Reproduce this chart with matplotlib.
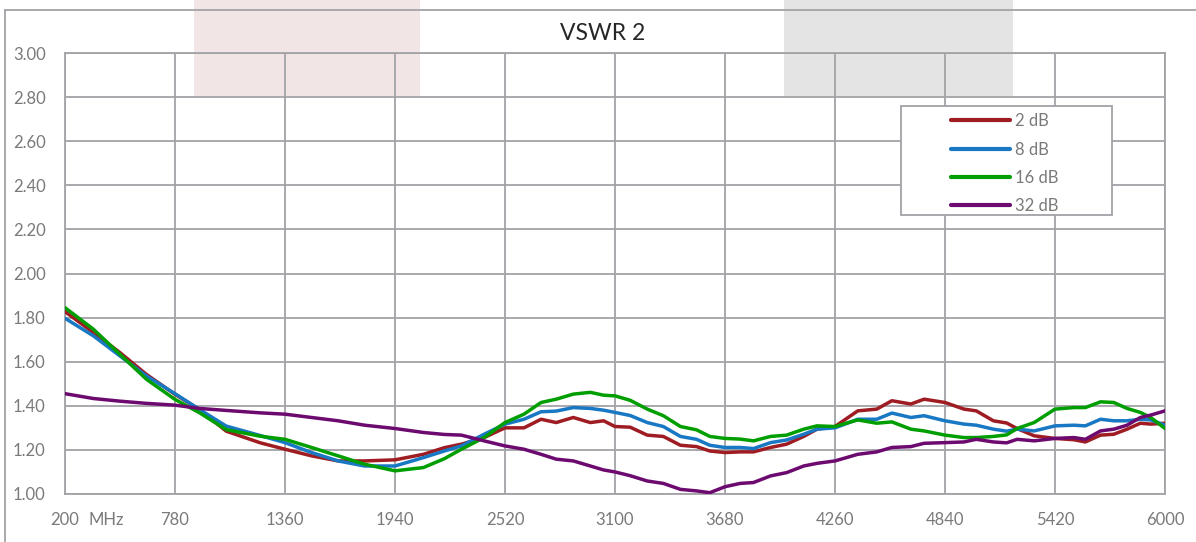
import matplotlib.pyplot as plt
from matplotlib.patches import Rectangle
from matplotlib.lines import Line2D

# frequency points (MHz)
freq = [200, 350, 490, 630, 780, 910, 1050, 1230, 1360, 1500, 1640, 1780, 1940,
        2090, 2200, 2290, 2410, 2520, 2620, 2710, 2790, 2880, 2970, 3040, 3100,
        3180, 3270, 3355, 3445, 3530, 3600, 3680, 3760, 3830, 3920, 4005, 4095,
        4165, 4260, 4380, 4480, 4560, 4660, 4730, 4840, 4940, 5005, 5095, 5165,
        5220, 5310, 5420, 5520, 5580, 5660, 5730, 5800, 5870, 5925, 6000]

vswr_2db = [1.827, 1.732, 1.641, 1.542, 1.452, 1.383, 1.285, 1.232, 1.203, 1.173,
            1.150, 1.150, 1.155, 1.180, 1.210, 1.226, 1.256, 1.300, 1.300, 1.339,
            1.324, 1.347, 1.324, 1.332, 1.306, 1.303, 1.267, 1.261, 1.221, 1.215,
            1.195, 1.188, 1.191, 1.191, 1.211, 1.226, 1.261, 1.294, 1.306, 1.377,
            1.385, 1.423, 1.408, 1.430, 1.415, 1.385, 1.377, 1.332, 1.322, 1.297,
            1.264, 1.252, 1.246, 1.236, 1.267, 1.271, 1.294, 1.321, 1.317, 1.321]

vswr_8db = [1.797, 1.717, 1.626, 1.535, 1.455, 1.383, 1.308, 1.265, 1.233, 1.188,
            1.150, 1.127, 1.127, 1.165, 1.195, 1.218, 1.271, 1.317, 1.339, 1.373,
            1.376, 1.392, 1.388, 1.380, 1.370, 1.356, 1.324, 1.306, 1.261, 1.248,
            1.221, 1.211, 1.211, 1.206, 1.233, 1.245, 1.271, 1.294, 1.300, 1.339,
            1.339, 1.367, 1.347, 1.355, 1.332, 1.317, 1.312, 1.294, 1.285, 1.294,
            1.286, 1.309, 1.312, 1.309, 1.339, 1.332, 1.332, 1.339, 1.336, 1.312]

vswr_16db = [1.845, 1.747, 1.633, 1.520, 1.429, 1.368, 1.292, 1.262, 1.248, 1.211,
             1.173, 1.135, 1.105, 1.120, 1.160, 1.203, 1.256, 1.324, 1.362, 1.415,
             1.430, 1.453, 1.461, 1.448, 1.445, 1.425, 1.385, 1.355, 1.306, 1.291,
             1.261, 1.252, 1.249, 1.241, 1.261, 1.267, 1.294, 1.309, 1.306, 1.336,
             1.321, 1.327, 1.294, 1.286, 1.267, 1.256, 1.256, 1.261, 1.268, 1.297,
             1.324, 1.385, 1.392, 1.392, 1.418, 1.415, 1.388, 1.370, 1.347, 1.297]

vswr_32db = [1.455, 1.433, 1.421, 1.411, 1.403, 1.388, 1.379, 1.368, 1.362, 1.347,
             1.332, 1.312, 1.297, 1.279, 1.270, 1.267, 1.241, 1.218, 1.203, 1.180,
             1.158, 1.150, 1.127, 1.109, 1.100, 1.083, 1.059, 1.048, 1.021, 1.014,
             1.006, 1.033, 1.048, 1.052, 1.082, 1.097, 1.127, 1.139, 1.150, 1.180,
             1.191, 1.211, 1.215, 1.230, 1.233, 1.236, 1.248, 1.236, 1.232, 1.248,
             1.241, 1.252, 1.256, 1.248, 1.286, 1.294, 1.312, 1.347, 1.358, 1.377]

series = [("2 dB", vswr_2db, "#9e1c22"),
          ("8 dB", vswr_8db, "#1878c4"),
          ("16 dB", vswr_16db, "#009e00"),
          ("32 dB", vswr_32db, "#6c0a70")]

xticks = [200, 780, 1360, 1940, 2520, 3100, 3680, 4260, 4840, 5420, 6000]
yticks = [1.00, 1.20, 1.40, 1.60, 1.80, 2.00, 2.20, 2.40, 2.60, 2.80, 3.00]
bands = [(880, 2070, "#f2e5e5"), (3990, 5200, "#e4e4e4")]

plt.rcParams['font.family'] = ['Lato', 'DejaVu Sans']
grid_c = "#a3a3a7"
text_c = "#7a7a7a"

fig = plt.figure(figsize=(11.96, 5.42), dpi=100)
ax = fig.add_axes([65 / 1196, 1 - 494 / 542, 1100 / 1196, 441 / 542])

for x0, x1, c in bands:
    ax.add_patch(Rectangle((x0, 2.80), x1 - x0, 0.6, facecolor=c,
                           edgecolor="none", zorder=0.2, clip_on=False))

for name, vals, c in series:
    ax.plot(freq, vals, color=c, lw=2.5, label=name, zorder=3,
            solid_joinstyle="round", solid_capstyle="round")

ax.set_xlim(200, 6000)
ax.set_ylim(1.0, 3.0)
ax.set_xticks(xticks)
ax.set_xticklabels([str(v) for v in xticks])
ax.set_yticks(yticks)
ax.set_yticklabels([f"{v:.2f}" for v in yticks])
ax.set_axisbelow(True)
ax.grid(True, color=grid_c, lw=1.3)
for s in ax.spines.values():
    s.set_color(grid_c)
    s.set_linewidth(1.3)
ax.tick_params(length=0, labelsize=12, labelcolor=text_c)
ax.tick_params(axis="y", pad=14)
ax.tick_params(axis="x", pad=13)

ax.annotate("MHz", xy=(0, 0), xycoords="axes fraction", xytext=(30, -13),
            textcoords="offset points", ha="center", va="top",
            fontsize=12, color=text_c)

# legend box
ax.add_patch(Rectangle((0.76, 0.633), 0.192, 0.247, transform=ax.transAxes,
                       facecolor="white", edgecolor=grid_c, lw=1.3, zorder=4))
leg = ax.legend(loc="upper left", bbox_to_anchor=(0.795, 0.89), frameon=False,
                fontsize=12, handlelength=3.5, handletextpad=0.3,
                labelspacing=0.74, borderpad=0.2)
leg.set_zorder(5)
for t in leg.get_texts():
    t.set_color(text_c)
for h in leg.get_lines():
    h.set_linewidth(3)

fig.text(603 / 1196, 1 - 33.5 / 542, "VSWR 2", ha="center", va="center",
         fontsize=16.5, color="#262626")

# outer chart frame
fig.add_artist(Line2D([5 / 1196, 1.0], [1 - 10 / 542] * 2, color=grid_c, lw=1.3))
fig.add_artist(Line2D([5 / 1196] * 2, [0, 1 - 10 / 542], color=grid_c, lw=1.3))

fig.savefig("out.png", dpi=100)
